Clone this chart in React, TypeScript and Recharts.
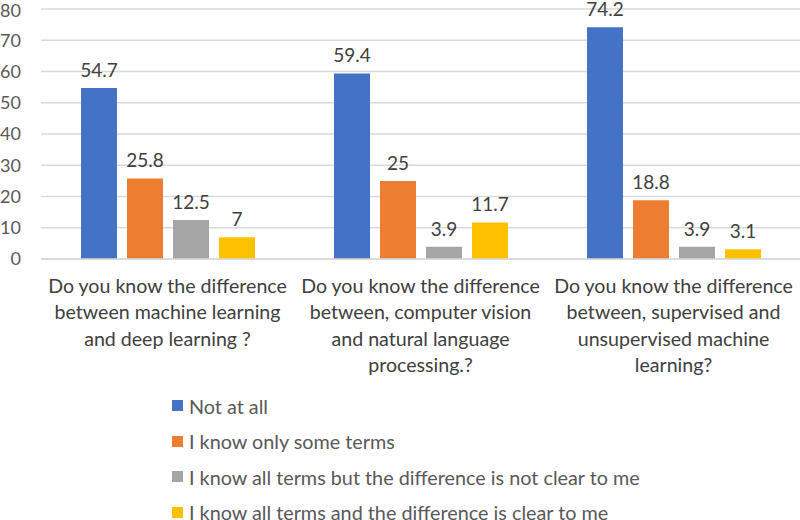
import React from "react";
import { BarChart, Bar, XAxis, YAxis, CartesianGrid, Legend, LabelList } from "recharts";

const categories = [
  "Do you know the difference\nbetween machine learning\nand deep learning ?",
  "Do you know the difference\nbetween, computer vision\nand natural language\nprocessing.?",
  "Do you know the difference\nbetween, supervised and\nunsupervised machine\nlearning?",
];

const notAtAll = [54.7, 59.4, 74.2];
const someTerms = [25.8, 25, 18.8];
const notClear = [12.5, 3.9, 3.9];
const clear = [7, 11.7, 3.1];

const yTicks = [0, 10, 20, 30, 40, 50, 60, 70, 80];

const series = [
  { key: "notAtAll", name: "Not at all", color: "#4472C4" },
  { key: "someTerms", name: "I know only some terms", color: "#ED7D31" },
  { key: "notClear", name: "I know all terms but the difference is not clear to me", color: "#A5A5A5" },
  { key: "clear", name: "I know all terms and the difference is clear to me", color: "#FFC000" },
];

const data = categories.map((name, i) => ({
  name,
  notAtAll: notAtAll[i],
  someTerms: someTerms[i],
  notClear: notClear[i],
  clear: clear[i],
}));

const FONT = "Lato, 'Open Sans', sans-serif";

function CategoryTick({ x, y, payload }: any) {
  const lines = String(payload.value).split("\n");
  return (
    <text x={x} y={y} textAnchor="middle" fill="#404040" fontSize={19.6} fontFamily={FONT}>
      {lines.map((line, i) => (
        <tspan key={i} x={x} dy={i === 0 ? 26 : 26.3}>
          {line}
        </tspan>
      ))}
    </text>
  );
}

function LegendList() {
  return (
    <div style={{ height: 142, fontFamily: FONT, fontSize: 19.8, color: "#595959" }}>
      {series.map((s) => (
        <div key={s.key} style={{ height: 35.5, display: "flex", alignItems: "center", whiteSpace: "nowrap" }}>
          <span style={{ display: "inline-block", width: 11, height: 11, background: s.color, marginRight: 6 }} />
          <span>{s.name}</span>
        </div>
      ))}
    </div>
  );
}

export default function App() {
  return (
    <div style={{ position: "absolute", left: 0, top: 0, width: 800, height: 520, background: "#fff" }}>
      <BarChart
        width={800}
        height={520}
        data={data}
        margin={{ top: 9, right: 0, left: 0, bottom: 0 }}
        barGap={10}
        barSize={36}
      >
        <CartesianGrid vertical={false} stroke="#d9d9d9" strokeWidth={1.3} />
        <XAxis
          dataKey="name"
          tickLine={false}
          axisLine={{ stroke: "#d9d9d9", strokeWidth: 1.3 }}
          height={119}
          interval={0}
          tick={<CategoryTick />}
        />
        <YAxis
          domain={[0, 80]}
          ticks={yTicks}
          width={41}
          tickLine={false}
          axisLine={false}
          tickMargin={14}
          tick={{ fill: "#595959", fontSize: 18, fontFamily: FONT }}
        />
        <Legend
          content={() => <LegendList />}
          wrapperStyle={{ left: 172, top: 388, width: "auto" }}
        />
        {series.map((s) => (
          <Bar key={s.key} dataKey={s.key} name={s.name} fill={s.color} isAnimationActive={false}>
            <LabelList
              dataKey={s.key}
              position="top"
              offset={11}
              fill="#404040"
              fontSize={19}
              fontFamily={FONT}
            />
          </Bar>
        ))}
      </BarChart>
    </div>
  );
}
